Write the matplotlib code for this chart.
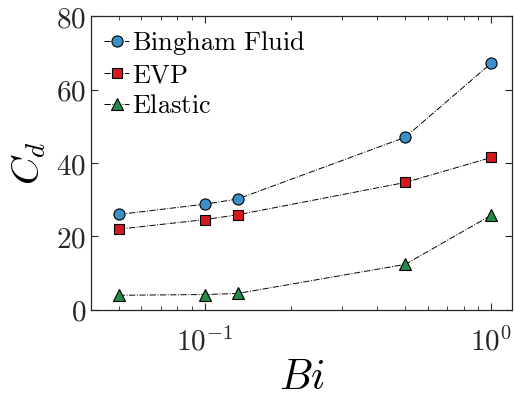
import math
import matplotlib
matplotlib.use("Agg")
import matplotlib.pyplot as plt
from matplotlib.ticker import FuncFormatter, LogLocator, NullFormatter

plt.rcParams['mathtext.fontset'] = 'cm'
plt.rcParams['font.family'] = 'serif'
plt.rcParams['font.serif'] = ['DejaVu Serif']

bi = [0.05, 0.1, 0.13, 0.5, 1.0]
bingham = [26.0, 28.8, 30.2, 47.0, 67.2]
evp = [22.0, 24.6, 25.9, 34.7, 41.5]
elastic = [4.0, 4.2, 4.5, 12.4, 25.8]
labels = ['Bingham Fluid', 'EVP', 'Elastic']
yticks = [0, 20, 40, 60, 80]

fig = plt.figure(figsize=(5.14, 4.01), dpi=100)
ax = fig.add_axes([0.177, 0.227, 0.819, 0.733])

line_kw = dict(color='black', linestyle='-.', linewidth=0.7, markeredgecolor='black', markeredgewidth=0.8)
ax.plot(bi, bingham, marker='o', markersize=8, markerfacecolor='#3d8fc9',
        label=r'$\mathrm{Bingham\ Fluid}$', **line_kw)
ax.plot(bi, evp, marker='s', markersize=7, markerfacecolor='#d41a1f',
        label=r'$\mathrm{EVP}$', **line_kw)
ax.plot(bi, elastic, marker='^', markersize=9, markerfacecolor='#238b45',
        label=r'$\mathrm{Elastic}$', **line_kw)

ax.set_xscale('log')
ax.set_xlim(0.04, 1.18)
ax.set_ylim(0, 80)
ax.set_yticks(yticks)
ax.yaxis.set_major_formatter(FuncFormatter(lambda v, p: r'$\mathrm{%d}$' % v))
ax.xaxis.set_major_locator(LogLocator(base=10))
ax.xaxis.set_major_formatter(FuncFormatter(lambda v, p: r'$\mathrm{10^{%d}}$' % round(math.log10(v))))
ax.xaxis.set_minor_locator(LogLocator(base=10, subs=[2, 3, 4, 5, 6, 7, 8, 9]))
ax.xaxis.set_minor_formatter(NullFormatter())

ax.tick_params(which='both', direction='in', top=True, right=True, colors='#262626', labelsize=21)
ax.tick_params(which='major', length=5, width=0.8)
ax.tick_params(which='minor', length=3, width=0.6)
ax.tick_params(axis='x', pad=12)
for s in ax.spines.values():
    s.set_color('#262626')
    s.set_linewidth(0.9)

ax.set_xlabel(r'$Bi$', fontsize=30, labelpad=0)
ax.set_ylabel(r'$C_d$', fontsize=28, labelpad=6)

ax.legend(loc='upper left', frameon=False, fontsize=19, handlelength=0.95, handletextpad=0.1,
          borderaxespad=0.2, labelspacing=0.2, borderpad=0.3)

fig.savefig('out.png', dpi=100)
